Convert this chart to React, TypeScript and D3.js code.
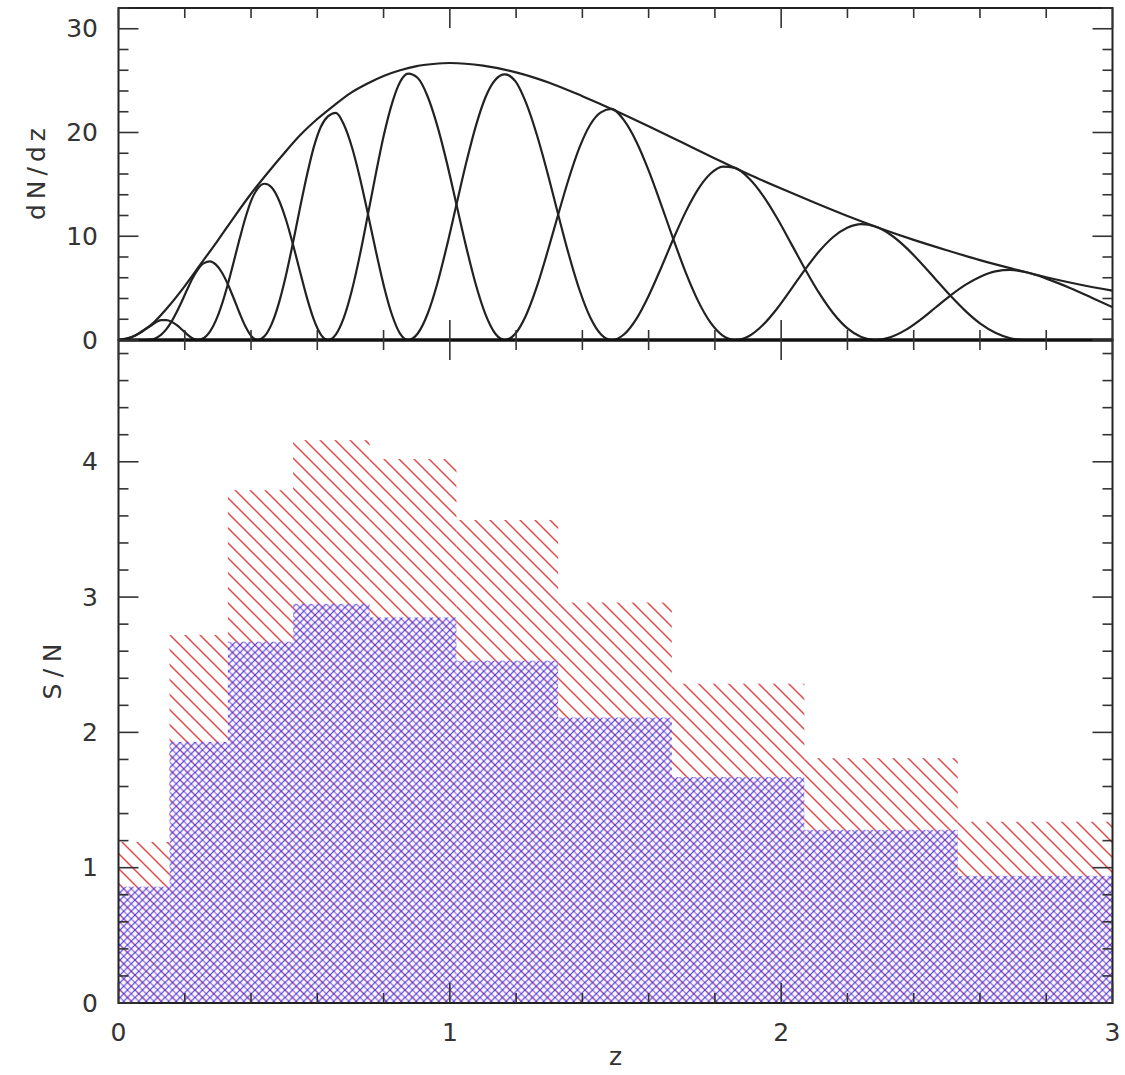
import React from "react";
import * as d3 from "d3";

// ---------- data ----------
const zTickLabels = [0, 1, 2, 3];
const dndzTickLabels = [0, 10, 20, 30];
const snTickLabels = [0, 1, 2, 3, 4];

// total dN/dz (envelope)
const envelope: [number, number][] = [
  [0, 0], [0.05, 0.42], [0.1, 1.5], [0.15, 3.2], [0.2, 5.2], [0.25, 7.4], [0.3, 9.6],
  [0.35, 11.9], [0.4, 14.1], [0.45, 16.1], [0.5, 18.0], [0.55, 19.8], [0.6, 21.3],
  [0.65, 22.6], [0.7, 23.8], [0.75, 24.7], [0.8, 25.45], [0.85, 26.0], [0.9, 26.4],
  [0.95, 26.6], [1.0, 26.7], [1.1, 26.45], [1.2, 25.8], [1.3, 24.8], [1.4, 23.5],
  [1.5, 22.1], [1.6, 20.6], [1.7, 19.05], [1.8, 17.5], [1.9, 16.0], [2.0, 14.6],
  [2.1, 13.25], [2.2, 11.95], [2.3, 10.75], [2.4, 9.65], [2.5, 8.65], [2.6, 7.7],
  [2.7, 6.85], [2.8, 6.05], [2.9, 5.35], [3.0, 4.75],
];

// redshift-bin dN/dz curves (each is zero outside its own window)
const bin1: [number, number][] = [[-0.05, 0], [0, 0], [0.02, 0.07], [0.04, 0.28], [0.06, 0.61], [0.08, 1.05], [0.096, 1.35], [0.112, 1.69], [0.128, 1.91], [0.144, 1.92], [0.16, 1.77], [0.176, 1.44], [0.192, 0.99], [0.208, 0.52], [0.224, 0.15], [0.24, 0], [0.42, 0]];
const bin2: [number, number][] = [[0, 0], [0.08, 0], [0.096, 0.034], [0.112, 0.18], [0.128, 0.49], [0.144, 1.02], [0.16, 1.77], [0.176, 2.72], [0.192, 3.79], [0.208, 4.92], [0.224, 5.98], [0.24, 6.82], [0.258, 7.41], [0.276, 7.57], [0.294, 7.26], [0.312, 6.51], [0.33, 5.38], [0.348, 4.0], [0.366, 2.55], [0.384, 1.25], [0.402, 0.34], [0.42, 0], [0.632, 0]];
const bin3: [number, number][] = [[0.08, 0], [0.24, 0], [0.258, 0.19], [0.276, 0.8], [0.294, 1.89], [0.312, 3.44], [0.33, 5.38], [0.348, 7.57], [0.366, 9.8], [0.384, 11.88], [0.402, 13.56], [0.42, 14.6], [0.4412, 15.06], [0.4624, 14.69], [0.4836, 13.52], [0.5048, 11.66], [0.526, 9.28], [0.5472, 6.67], [0.5684, 4.11], [0.5896, 1.96], [0.6108, 0.52], [0.632, 0], [0.874, 0]];
const bin4: [number, number][] = [[0.24, 0], [0.42, 0], [0.4412, 0.38], [0.4624, 1.55], [0.4836, 3.51], [0.5048, 6.15], [0.526, 9.28], [0.5472, 12.64], [0.5684, 15.83], [0.5896, 18.61], [0.6108, 20.55], [0.632, 21.55], [0.6562, 21.9], [0.6804, 20.75], [0.7046, 18.58], [0.7288, 15.6], [0.753, 12.13], [0.7772, 8.5], [0.8014, 5.14], [0.8256, 2.41], [0.8498, 0.62], [0.874, 0], [1.166, 0]];
const bin5: [number, number][] = [[0.42, 0], [0.632, 0], [0.6562, 0.55], [0.6804, 2.18], [0.7046, 4.82], [0.7288, 8.23], [0.753, 12.13], [0.7772, 16.11], [0.8014, 19.82], [0.8256, 22.81], [0.8498, 24.86], [0.874, 25.67], [0.9032, 25.25], [0.9324, 23.52], [0.9616, 20.71], [0.9908, 17.12], [1.02, 13.06], [1.0492, 9.0], [1.0784, 5.35], [1.1076, 2.47], [1.1368, 0.63], [1.166, 0], [1.488, 0]];
const bin6: [number, number][] = [[0.632, 0], [0.874, 0], [0.9032, 0.63], [0.9324, 2.48], [0.9616, 5.38], [0.9908, 9.03], [1.02, 13.06], [1.0492, 17.05], [1.0784, 20.62], [1.1076, 23.4], [1.1368, 25.06], [1.166, 25.6], [1.1982, 24.93], [1.2304, 22.83], [1.2626, 19.78], [1.2948, 16.1], [1.327, 12.1], [1.3592, 8.22], [1.3914, 4.82], [1.4236, 2.19], [1.4558, 0.55], [1.488, 0], [1.861, 0]];
const bin7: [number, number][] = [[0.874, 0], [1.166, 0], [1.1982, 0.63], [1.2304, 2.41], [1.2626, 5.14], [1.2948, 8.5], [1.327, 12.1], [1.3592, 15.57], [1.3914, 18.56], [1.4236, 20.75], [1.4558, 21.94], [1.488, 22.27], [1.5253, 21.19], [1.5626, 19.14], [1.5999, 16.35], [1.6372, 13.1], [1.6745, 9.73], [1.7118, 6.52], [1.7491, 3.77], [1.7864, 1.69], [1.8237, 0.42], [1.861, 0], [2.284, 0]];
const bin8: [number, number][] = [[1.166, 0], [1.488, 0], [1.5253, 0.53], [1.5626, 2.02], [1.5999, 4.25], [1.6372, 6.92], [1.6745, 9.73], [1.7118, 12.35], [1.7491, 14.52], [1.7864, 16.02], [1.8237, 16.72], [1.861, 16.59], [1.9033, 15.56], [1.9456, 13.89], [1.9879, 11.73], [2.0302, 9.29], [2.0725, 6.81], [2.1148, 4.51], [2.1571, 2.58], [2.1994, 1.14], [2.2417, 0.28], [2.284, 0], [2.737, 0]];
const bin9: [number, number][] = [[1.488, 0], [1.861, 0], [1.9033, 0.39], [1.9456, 1.47], [1.9879, 3.04], [2.0302, 4.9], [2.0725, 6.81], [2.1148, 8.55], [2.1571, 9.93], [2.1994, 10.82], [2.2417, 11.17], [2.284, 10.94], [2.3293, 10.17], [2.3746, 8.98], [2.4199, 7.5], [2.4652, 5.89], [2.5105, 4.28], [2.5558, 2.81], [2.6011, 1.58], [2.6464, 0.7], [2.6917, 0.17], [2.737, 0], [3.1, 0]];
const bin10: [number, number][] = [[1.861, 0], [2.284, 0], [2.3293, 0.26], [2.3746, 0.95], [2.4199, 1.95], [2.4652, 3.11], [2.5105, 4.28], [2.5558, 5.31], [2.6011, 6.1], [2.6464, 6.61], [2.6917, 6.75], [2.737, 6.55], [2.8043, 5.87], [2.8716, 5.02], [2.9389, 4.06], [3.0062, 3.08]];
const binCurves = [bin1, bin2, bin3, bin4, bin5, bin6, bin7, bin8, bin9, bin10];

// S/N histograms
const binEdges = [0, 0.154, 0.33, 0.527, 0.758, 1.02, 1.327, 1.67, 2.07, 2.533, 3.0];
const snRed = [1.19, 2.72, 3.79, 4.16, 4.02, 3.57, 2.96, 2.36, 1.81, 1.34];
const snBlue = [0.86, 1.93, 2.67, 2.95, 2.85, 2.53, 2.11, 1.67, 1.28, 0.94];

// ---------- layout ----------
const W = 1125;
const H = 1075;
const X0 = 118.5;
const X1 = 1112.5;
const TOP0 = 8;
const TOP1 = 340;
const BOT1 = 1003;

const FONT = "DejaVu Sans";
const INK = "#222";
const TXT = "#333";

export default function App() {
  const x = d3.scaleLinear().domain([0, 3]).range([X0, X1]);
  const yTop = d3.scaleLinear().domain([0, 32]).range([TOP1, TOP0]);
  const yBot = d3.scaleLinear().domain([0, 4.9]).range([BOT1, TOP1]);

  const mono = d3
    .line<[number, number]>()
    .x((d) => x(d[0]))
    .y((d) => yTop(d[1]))
    .curve(d3.curveMonotoneX);

  const xMinor = d3.range(16).map((i) => ({ v: i * 0.2, major: i % 5 === 0 }));
  const yTopTicks = d3.range(17).map((i) => ({ v: i * 2, major: i % 5 === 0 }));
  const yBotTicks = d3.range(25).map((i) => ({ v: i * 0.2, major: i % 5 === 0 }));

  const MAJ = 20;
  const MIN = 10;

  const ticks: JSX.Element[] = [];
  yTopTicks.forEach((t, i) => {
    const L = t.major ? MAJ : MIN;
    const yy = yTop(t.v);
    ticks.push(<line key={`tl${i}`} x1={X0} x2={X0 + L} y1={yy} y2={yy} />);
    ticks.push(<line key={`tr${i}`} x1={X1} x2={X1 - L} y1={yy} y2={yy} />);
  });
  xMinor.forEach((t, i) => {
    const L = t.major ? MAJ : MIN;
    const xx = x(t.v);
    ticks.push(<line key={`tt${i}`} x1={xx} x2={xx} y1={TOP0} y2={TOP0 + L} />);
    ticks.push(<line key={`tb${i}`} x1={xx} x2={xx} y1={TOP1} y2={TOP1 - L} />);
    ticks.push(<line key={`bt${i}`} x1={xx} x2={xx} y1={TOP1} y2={TOP1 + L} />);
    ticks.push(<line key={`bb${i}`} x1={xx} x2={xx} y1={BOT1} y2={BOT1 - L} />);
  });
  yBotTicks.forEach((t, i) => {
    const L = t.major ? MAJ : MIN;
    const yy = yBot(t.v);
    ticks.push(<line key={`bl${i}`} x1={X0} x2={X0 + L} y1={yy} y2={yy} />);
    ticks.push(<line key={`br${i}`} x1={X1} x2={X1 - L} y1={yy} y2={yy} />);
  });

  return (
    <svg
      width={W}
      height={H}
      viewBox={`0 0 ${W} ${H}`}
      style={{ position: "absolute", left: 0, top: 0, background: "#fff" }}
    >
      <defs>
        <pattern id="redHatch" patternUnits="userSpaceOnUse" width={15} height={15}>
          <path
            d="M0,0 L15,15 M-2,13 L2,17 M13,-2 L17,2"
            stroke="#e24a4a"
            strokeWidth={1.5}
            fill="none"
          />
        </pattern>
        <pattern id="blueHatch" patternUnits="userSpaceOnUse" width={7.5} height={7.5}>
          <rect width={7.5} height={7.5} fill="#f6eefa" opacity={0.45} />
          <path d="M0,0 L7.5,7.5 M-2,5.5 L2,9.5 M5.5,-2 L9.5,2" stroke="#7a38c8" strokeWidth={1.1} fill="none" opacity={0.85} />
          <path d="M0,7.5 L7.5,0 M-2,2 L2,-2 M5.5,9.5 L9.5,5.5" stroke="#3a3ae0" strokeWidth={1.1} fill="none" />
        </pattern>
        <clipPath id="botClip">
          <rect x={X0} y={TOP1} width={X1 - X0} height={BOT1 - TOP1} />
        </clipPath>
        <clipPath id="topClip">
          <rect x={X0} y={TOP0} width={X1 - X0} height={TOP1 - TOP0} />
        </clipPath>
      </defs>

      {/* bottom panel histograms */}
      <g clipPath="url(#botClip)">
        {snRed.map((v, i) => (
          <rect
            key={`r${i}`}
            x={x(binEdges[i])}
            width={x(binEdges[i + 1]) - x(binEdges[i])}
            y={yBot(v)}
            height={yBot(0) - yBot(v)}
            fill="url(#redHatch)"
          />
        ))}
        {snBlue.map((v, i) => (
          <rect
            key={`b${i}`}
            x={x(binEdges[i])}
            width={x(binEdges[i + 1]) - x(binEdges[i])}
            y={yBot(v)}
            height={yBot(0) - yBot(v)}
            fill="url(#blueHatch)"
          />
        ))}
      </g>

      {/* top panel curves */}
      <g clipPath="url(#topClip)" fill="none" stroke={INK} strokeWidth={2.2}>
        <path d={mono(envelope) || ""} />
        {binCurves.map((c, i) => (
          <path key={`c${i}`} d={mono(c) || ""} />
        ))}
      </g>

      {/* frames */}
      <g fill="none" stroke={INK} strokeWidth={2}>
        <rect x={X0} y={TOP0} width={X1 - X0} height={TOP1 - TOP0} />
        <rect x={X0} y={TOP1} width={X1 - X0} height={BOT1 - TOP1} />
      </g>
      <line x1={X0} x2={X1} y1={yTop(0)} y2={yTop(0)} stroke="#111" strokeWidth={3.5} />

      {/* ticks */}
      <g stroke="#333" strokeWidth={1.6}>{ticks}</g>

      {/* tick labels */}
      <g fontFamily={FONT} fontSize={25} fill={TXT}>
        {dndzTickLabels.map((v) => (
          <text key={`yl${v}`} x={98} y={yTop(v)} textAnchor="end" dominantBaseline="central">
            {v}
          </text>
        ))}
        {snTickLabels.map((v) => (
          <text key={`sl${v}`} x={98} y={yBot(v)} textAnchor="end" dominantBaseline="central">
            {v}
          </text>
        ))}
        {zTickLabels.map((v) => (
          <text key={`xl${v}`} x={x(v)} y={1041} textAnchor="middle">
            {v}
          </text>
        ))}
        <text x={(X0 + X1) / 2} y={1065} textAnchor="middle">
          z
        </text>
        <text
          transform={`translate(45,${(TOP0 + TOP1) / 2}) rotate(-90)`}
          textAnchor="middle"
          textLength={92}
          lengthAdjust="spacing"
        >
          dN/dz
        </text>
        <text
          transform={`translate(61,${(TOP1 + BOT1) / 2}) rotate(-90)`}
          textAnchor="middle"
          textLength={56}
          lengthAdjust="spacing"
        >
          S/N
        </text>
      </g>
    </svg>
  );
}
